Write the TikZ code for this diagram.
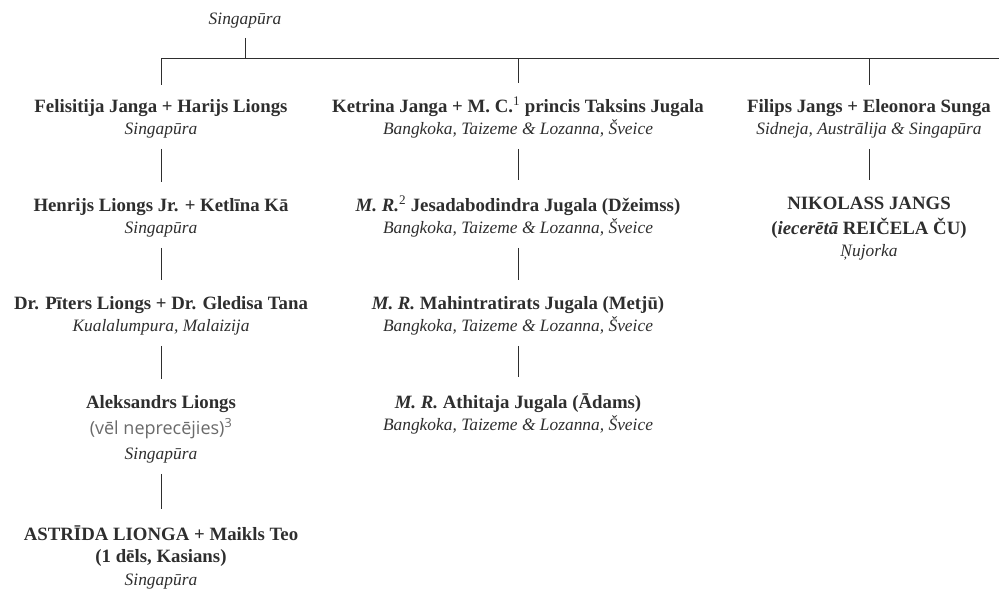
\documentclass[tikz,border=0pt]{standalone}
\usepackage{fontspec}
\setmainfont{Liberation Serif}
\newfontfamily\notefont{Open Sans}
\definecolor{ink}{HTML}{2E2E2E}
\definecolor{notegray}{HTML}{6A6A6A}
\newcommand{\bl}[1]{{\fontsize{18.8}{22}\selectfont\bfseries #1}}
\newcommand{\il}[1]{{\fontsize{17.4}{22}\selectfont\itshape #1}}
\begin{document}
\begin{tikzpicture}[x=1pt,y=-1pt,
  blk/.style={align=center, inner sep=0pt, anchor=base, text=ink,
    font=\fontsize{18}{22}\selectfont},
  line/.style={draw=ink, line width=0.8pt},
  conn/.style={line, shorten <=11pt, shorten >=16pt}]
\useasboundingbox (0,0) rectangle (999,590);

% top (anchored at the baseline of the last line)
\node[blk] (top) at (245,24) {\il{Singapūra}};
\coordinate (busR) at (999,58);

% column 1
\node[blk] (f1) at (161,134) {\bl{Felisitija Janga + Harijs Liongs}\\\il{Singapūra}};
\node[blk] (h1) at (161,233) {\bl{Henrijs Liongs Jr. + Ketlīna Kā}\\\il{Singapūra}};
\node[blk] (p1) at (161,331) {\bl{Dr. Pīters Liongs + Dr. Gledisa Tana}\\\il{Kualalumpura, Malaizija}};
\node[blk] (a1) at (161,459) {\bl{Aleksandrs Liongs}\\[4pt]{\notefont\fontsize{18}{20}\selectfont\color{notegray}(vēl neprecējies)\textsuperscript{3}}\\[3pt]\il{Singapūra}};
\node[blk] (s1) at (161,585) {\bl{ASTRĪDA LIONGA + Maikls Teo}\\\bl{(1 dēls, Kasians)}\\[1pt]\il{Singapūra}};

% column 2
\node[blk] (k2) at (518,134) {\bl{Ketrina Janga + M. C.\textsuperscript{\mdseries 1} princis Taksins Jugala}\\\il{Bangkoka, Taizeme \& Lozanna, Šveice}};
\node[blk] (j2) at (518,233) {\bl{\textit{M. R.}\textsuperscript{\mdseries 2} Jesadabodindra Jugala (Džeimss)}\\\il{Bangkoka, Taizeme \& Lozanna, Šveice}};
\node[blk] (m2) at (518,331) {\bl{\textit{M. R.} Mahintratirats Jugala (Metjū)}\\\il{Bangkoka, Taizeme \& Lozanna, Šveice}};
\node[blk] (t2) at (518,430) {\bl{\textit{M. R.} Athitaja Jugala (Ādams)}\\\il{Bangkoka, Taizeme \& Lozanna, Šveice}};

% column 3
\node[blk] (fi3) at (869,134) {\bl{Filips Jangs + Eleonora Sunga}\\\il{Sidneja, Austrālija \& Singapūra}};
\node[blk] (n3) at (869,256) {\bl{NIKOLASS JANGS}\\[3pt]\bl{(\textit{iecerētā} REIČELA ČU)}\\\il{Ņujorka}};

% bus and drops
\draw[line] ([yshift=-10pt]top.south) -- (top.south |- busR);
\draw[line] ([yshift=14pt]f1.north) |- (busR);
\draw[line] ([yshift=14pt]k2.north) -- (k2.north |- busR);
\draw[line] ([yshift=14pt]fi3.north) -- (fi3.north |- busR);

% descent lines
\draw[conn] (f1.south) -- (h1.north);
\draw[conn] (h1.south) -- (p1.north);
\draw[conn] (p1.south) -- (a1.north);
\draw[conn] (a1.south) -- (s1.north);
\draw[conn] (k2.south) -- (j2.north);
\draw[conn] (j2.south) -- (m2.north);
\draw[conn] (m2.south) -- (t2.north);
\draw[conn] (fi3.south) -- (n3.north);
\end{tikzpicture}
\end{document}
